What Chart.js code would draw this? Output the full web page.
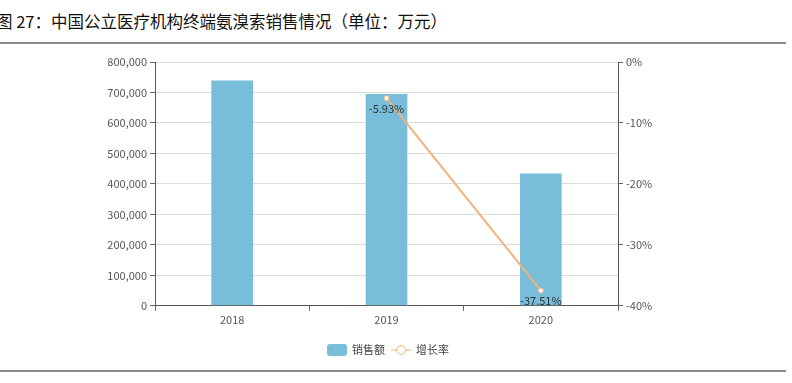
<!DOCTYPE html>
<html>
<head>
<meta charset="utf-8">
<script src="https://cdn.jsdelivr.net/npm/chart.js@4/dist/chart.umd.min.js"></script>
<style>
    body { margin: 0; background: #fff; width: 792px; height: 383px; overflow: hidden; position: relative; }
    .title { position: absolute; left: -4px; top: 9px; font: 16.5px "Noto Sans CJK SC", sans-serif; color: #111; white-space: nowrap; }
    .rule { position: absolute; left: 0; width: 786px; height: 2px; background: #8c8c8c; }
    .chart-box { position: absolute; left: 0; top: 45px; width: 792px; height: 318px; }
</style>
</head>
<body>
<div class="title">图 27：中国公立医疗机构终端氨溴索销售情况（单位：万元）</div>
<div class="rule" style="top: 42px;"></div>
<div class="chart-box"><canvas id="chart"></canvas></div>
<div class="rule" style="top: 370px;"></div>
<script>
// Données
const categories = ['2018', '2019', '2020'];
const salesValues = [739000, 695200, 434400];
const growthValues = [null, -5.93, -37.51];
const seriesNames = ['销售额', '增长率'];

const BAR_COLOR = '#78bedb';
const LINE_COLOR = '#f2b27a';
const FONT = '"Noto Sans CJK SC", sans-serif';

// Etiquettes des points de la courbe
const pointLabels = {
    id: 'pointLabels',
    afterDatasetsDraw(chart) {
        const ctx = chart.ctx;
        const meta = chart.getDatasetMeta(1);
        ctx.save();
        ctx.font = '11px ' + FONT;
        ctx.fillStyle = '#333';
        ctx.textAlign = 'center';
        ctx.textBaseline = 'top';
        meta.data.forEach((pt, i) => {
            const v = growthValues[i];
            if (v === null) return;
            ctx.fillText(v.toFixed(2) + '%', pt.x, pt.y + 5);
        });
        ctx.restore();
    }
};

// Légende dessinée à la main (barre + ligne avec cercle)
const customLegend = {
    id: 'customLegend',
    afterDraw(chart) {
        const ctx = chart.ctx;
        const y = 305;
        ctx.save();
        ctx.font = '11px ' + FONT;
        ctx.textBaseline = 'middle';
        ctx.fillStyle = BAR_COLOR;
        ctx.beginPath();
        ctx.roundRect(327, y - 6, 20, 12, 3);
        ctx.fill();
        ctx.fillStyle = '#444';
        ctx.fillText(seriesNames[0], 352, y);
        ctx.strokeStyle = LINE_COLOR;
        ctx.lineWidth = 1;
        ctx.beginPath();
        ctx.moveTo(391, y);
        ctx.lineTo(411, y);
        ctx.stroke();
        ctx.fillStyle = '#fff';
        ctx.beginPath();
        ctx.arc(401, y, 4.5, 0, Math.PI * 2);
        ctx.fill();
        ctx.stroke();
        ctx.fillStyle = '#444';
        ctx.fillText(seriesNames[1], 416, y);
        ctx.restore();
    }
};

new Chart(document.getElementById('chart'), {
    data: {
        labels: categories,
        datasets: [
            {
                type: 'bar',
                label: seriesNames[0],
                data: salesValues,
                backgroundColor: BAR_COLOR,
                yAxisID: 'y',
                barPercentage: 0.27,
                categoryPercentage: 1,
                order: 2
            },
            {
                type: 'line',
                label: seriesNames[1],
                data: growthValues,
                borderColor: LINE_COLOR,
                borderWidth: 2,
                pointRadius: 2.5,
                pointBackgroundColor: '#fff',
                pointBorderColor: LINE_COLOR,
                pointBorderWidth: 1,
                yAxisID: 'y1',
                order: 1
            }
        ]
    },
    options: {
        responsive: true,
        maintainAspectRatio: false,
        animation: false,
        layout: { padding: { top: 17, bottom: 35, left: 0, right: 0 } },
        plugins: { legend: { display: false }, tooltip: { enabled: false } },
        scales: {
            x: {
                offset: true,
                grid: { offset: true, drawOnChartArea: false, tickLength: 5, tickColor: '#666' },
                border: { color: '#555' },
                ticks: { color: '#555', font: { family: FONT, size: 11 }, padding: 2 }
            },
            y: {
                position: 'left',
                min: 0,
                max: 800000,
                ticks: {
                    stepSize: 100000,
                    color: '#555',
                    font: { family: FONT, size: 11 },
                    padding: 3,
                    callback: v => v.toLocaleString('en-US')
                },
                grid: { color: '#dcdcdc', tickLength: 5, tickColor: '#666' },
                border: { color: '#555' },
                afterFit: s => { s.width = 155; }
            },
            y1: {
                position: 'right',
                min: -40,
                max: 0,
                ticks: {
                    stepSize: 10,
                    color: '#555',
                    font: { family: FONT, size: 11 },
                    padding: 3,
                    callback: v => v + '%'
                },
                grid: { drawOnChartArea: false, tickLength: 5, tickColor: '#666' },
                border: { color: '#555' },
                afterFit: s => { s.width = 174; }
            }
        }
    },
    plugins: [pointLabels, customLegend]
});
</script>
</body>
</html>
